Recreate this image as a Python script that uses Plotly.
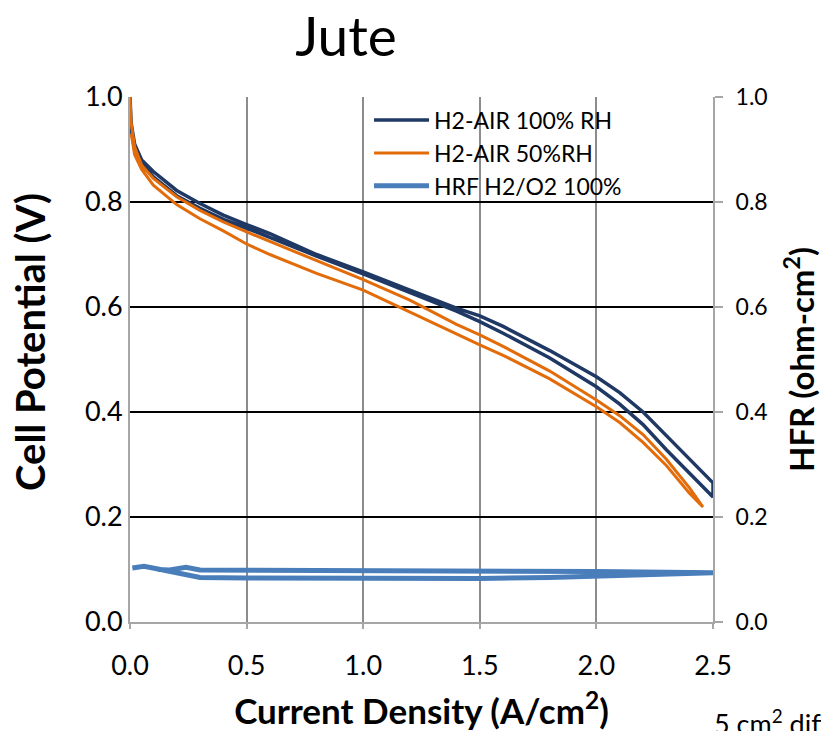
import plotly.graph_objects as go

# ---- data ----
# H2-AIR 100% RH polarization loop (forward then return sweep)
rh100_x = [0.0, 0.005, 0.02, 0.05, 0.1, 0.2, 0.3, 0.4, 0.5, 0.6, 0.8, 1.0, 1.2, 1.4, 1.5, 1.6, 1.8, 2.0, 2.1, 2.2, 2.3, 2.4, 2.5,
           2.5, 2.4, 2.3, 2.2, 2.1, 2.0, 1.8, 1.6, 1.5, 1.4, 1.2, 1.0, 0.8, 0.6, 0.5, 0.4, 0.3, 0.2, 0.1, 0.05, 0.02, 0.005]
rh100_v = [1.0, 0.95, 0.91, 0.88, 0.858, 0.822, 0.797, 0.775, 0.757, 0.74, 0.70, 0.667, 0.632, 0.598, 0.583, 0.563, 0.517, 0.467, 0.437, 0.400, 0.355, 0.31, 0.265,
           0.238, 0.283, 0.328, 0.376, 0.415, 0.448, 0.503, 0.55, 0.572, 0.592, 0.628, 0.663, 0.697, 0.733, 0.75, 0.767, 0.788, 0.812, 0.848, 0.872, 0.90, 0.94]

# H2-AIR 50% RH polarization loop
rh50_x = [0.0, 0.005, 0.02, 0.05, 0.1, 0.2, 0.3, 0.4, 0.5, 0.6, 0.8, 1.0, 1.2, 1.4, 1.5, 1.6, 1.8, 2.0, 2.1, 2.2, 2.3, 2.4, 2.457,
          2.4, 2.3, 2.2, 2.1, 2.0, 1.8, 1.6, 1.5, 1.4, 1.2, 1.0, 0.8, 0.6, 0.5, 0.4, 0.3, 0.2, 0.1, 0.05, 0.02, 0.005]
rh50_v = [1.0, 0.95, 0.905, 0.87, 0.845, 0.81, 0.784, 0.762, 0.743, 0.725, 0.688, 0.652, 0.613, 0.567, 0.547, 0.525, 0.478, 0.423, 0.393, 0.357, 0.31, 0.255, 0.219,
          0.245, 0.298, 0.342, 0.38, 0.41, 0.463, 0.508, 0.528, 0.549, 0.59, 0.632, 0.664, 0.70, 0.72, 0.745, 0.768, 0.795, 0.832, 0.862, 0.89, 0.93]

# HFR H2/O2 100% (right axis)
hfr_x = [0.01, 0.06, 0.12, 0.2, 0.3, 0.5, 1.0, 1.5, 1.8, 2.1, 2.5,
         2.0, 1.5, 1.0, 0.5, 0.3, 0.24, 0.17, 0.12]
hfr_v = [0.103, 0.106, 0.101, 0.094, 0.085, 0.084, 0.083, 0.083, 0.085, 0.089, 0.094,
         0.096, 0.097, 0.097, 0.098, 0.099, 0.104, 0.099, 0.100]

x_ticks = [0.0, 0.5, 1.0, 1.5, 2.0, 2.5]
y_ticks = [0.0, 0.2, 0.4, 0.6, 0.8, 1.0]
tick_text_x = ["0.0", "0.5", "1.0", "1.5", "2.0", "2.5"]
tick_text_y = ["0.0", "0.2", "0.4", "0.6", "0.8", "1.0"]

FONT = "Lato"

fig = go.Figure()
fig.add_trace(go.Scatter(x=rh100_x, y=rh100_v, mode="lines", name="H2-AIR 100% RH",
                         line=dict(color="#1F3864", width=3.5)))
fig.add_trace(go.Scatter(x=rh50_x, y=rh50_v, mode="lines", name="H2-AIR 50%RH",
                         line=dict(color="#E36C0A", width=3)))
fig.add_trace(go.Scatter(x=hfr_x, y=hfr_v, mode="lines", name="HRF H2/O2 100%", yaxis="y2",
                         line=dict(color="#4A7EBB", width=5)))

fig.update_layout(
    width=821, height=731,
    paper_bgcolor="white", plot_bgcolor="white",
    margin=dict(l=130, r=108, t=97, b=109, autoexpand=False),
    font=dict(family=FONT, color="black", size=22),
    title=dict(text="Jute", x=346 / 821, xanchor="center", y=1 - 37 / 731, yanchor="middle",
               font=dict(family=FONT, size=55, color="black")),
    showlegend=True,
    legend=dict(x=0.41, y=0.997, xanchor="left", yanchor="top", bgcolor="rgba(0,0,0,0)",
                font=dict(family=FONT, size=23, color="black"), itemwidth=55,
                tracegroupgap=0),
    xaxis=dict(range=[0, 2.5], tickvals=x_ticks, ticktext=tick_text_x,
               showgrid=True, gridcolor="#8C8C8C", gridwidth=2,
               showline=True, linecolor="#A6A6A6", linewidth=2,
               ticks="outside", ticklen=5, tickcolor="#A6A6A6", tickwidth=2,
               zeroline=False, tickfont=dict(size=27), ticklabelstandoff=14, automargin=False,
               title=dict(text="<b>Current Density (A/cm<sup>2</sup>)</b>", font=dict(size=35), standoff=22)),
    yaxis=dict(range=[0, 1.0], tickvals=y_ticks, ticktext=tick_text_y,
               showgrid=True, gridcolor="black", gridwidth=2,
               showline=True, linecolor="#A6A6A6", linewidth=2,
               ticks="", zeroline=False, tickfont=dict(size=27), automargin=False),
    yaxis2=dict(range=[0, 1.0], tickvals=y_ticks, ticktext=tick_text_y, overlaying="y", side="right",
                showgrid=False, showline=True, linecolor="#A6A6A6", linewidth=2,
                ticks="outside", ticklen=8, tickcolor="#A6A6A6", tickwidth=2,
                zeroline=False, tickfont=dict(size=23), ticklabelstandoff=8, automargin=False,
                title=dict(text="<b>HFR (ohm-cm<sup>2</sup>)</b>", font=dict(size=33), standoff=28)),
    annotations=[
        dict(text="<b>Cell Potential (V)</b>", xref="paper", yref="paper",
             x=(30 - 130) / 583, y=(622 - 342) / 525, xanchor="center", yanchor="middle",
             textangle=-90, showarrow=False, font=dict(family=FONT, size=40, color="black")),
        dict(text="5 cm<sup>2</sup> diffusion media", xref="paper", yref="paper",
             x=(712 - 130) / 583, y=(622 - 702) / 525, xanchor="left", yanchor="top",
             showarrow=False, font=dict(family=FONT, size=27, color="black")),
    ],
)

fig.write_html("out.html")
